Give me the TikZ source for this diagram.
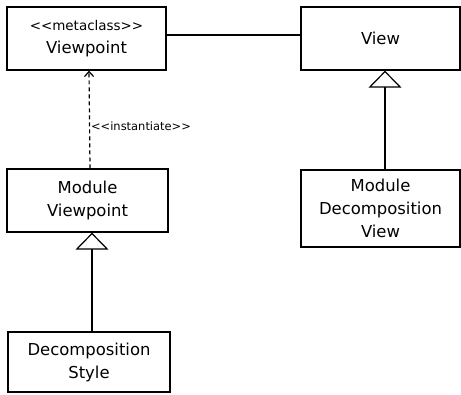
\documentclass[tikz,border=0pt]{standalone}
\usepackage{fontspec}
\setmainfont{DejaVu Sans}
\usetikzlibrary{arrows.meta}
\begin{document}
\begin{tikzpicture}[x=1bp,y=-1bp,
  cls/.style={draw,line width=1.3bp,rectangle,inner sep=0pt,align=center,
    font=\fontsize{16.5}{23}\selectfont},
  gen/.style={line width=1.2bp,-{Triangle[open,width=33bp,length=17bp,line width=1.2bp]}},
  inst/.style={line width=1.2bp,dash pattern=on 4bp off 3bp,-{Straight Barb[length=5bp,width=9bp,line width=1.2bp]}},
  lbl/.style={font=\fontsize{11.5}{14}\selectfont,inner sep=0pt}]
\useasboundingbox (0,0) rectangle (461,394);
\node[cls,minimum width=159bp,minimum height=63bp] (vp) at (86.5,38.5)
  {{\fontsize{13.5}{14}\selectfont <{}<metaclass>{}>}\\Viewpoint};
\node[cls,minimum width=159bp,minimum height=63bp] (view) at (380.5,38.5) {View};
\node[cls,minimum width=161bp,minimum height=63bp] (mvp) at (87.5,200.5) {Module\\Viewpoint};
\node[cls,minimum width=162bp,minimum height=60bp] (ds) at (89,362) {Decomposition\\Style};
\node[cls,minimum width=159bp,minimum height=77bp] (mdv) at (380.5,208.5) {Module\\Decomposition\\View};
\draw[line width=1.2bp] ([yshift=3.5bp]vp.east) -- ([yshift=3.5bp]view.west);
\draw[gen] ([xshift=4.5bp]mdv.north) -- ([xshift=4.5bp]view.south);
\draw[gen] ([xshift=3bp]ds.north) -- ([xshift=3bp]ds.north |- mvp.south);
\draw[inst] ([xshift=2.5bp]mvp.north) -- ([xshift=2.5bp]vp.south)
  node[lbl,pos=0.5,anchor=west,xshift=1bp,yshift=-7bp] (il) {<{}<instantiate>{}>};
\end{tikzpicture}
\end{document}
